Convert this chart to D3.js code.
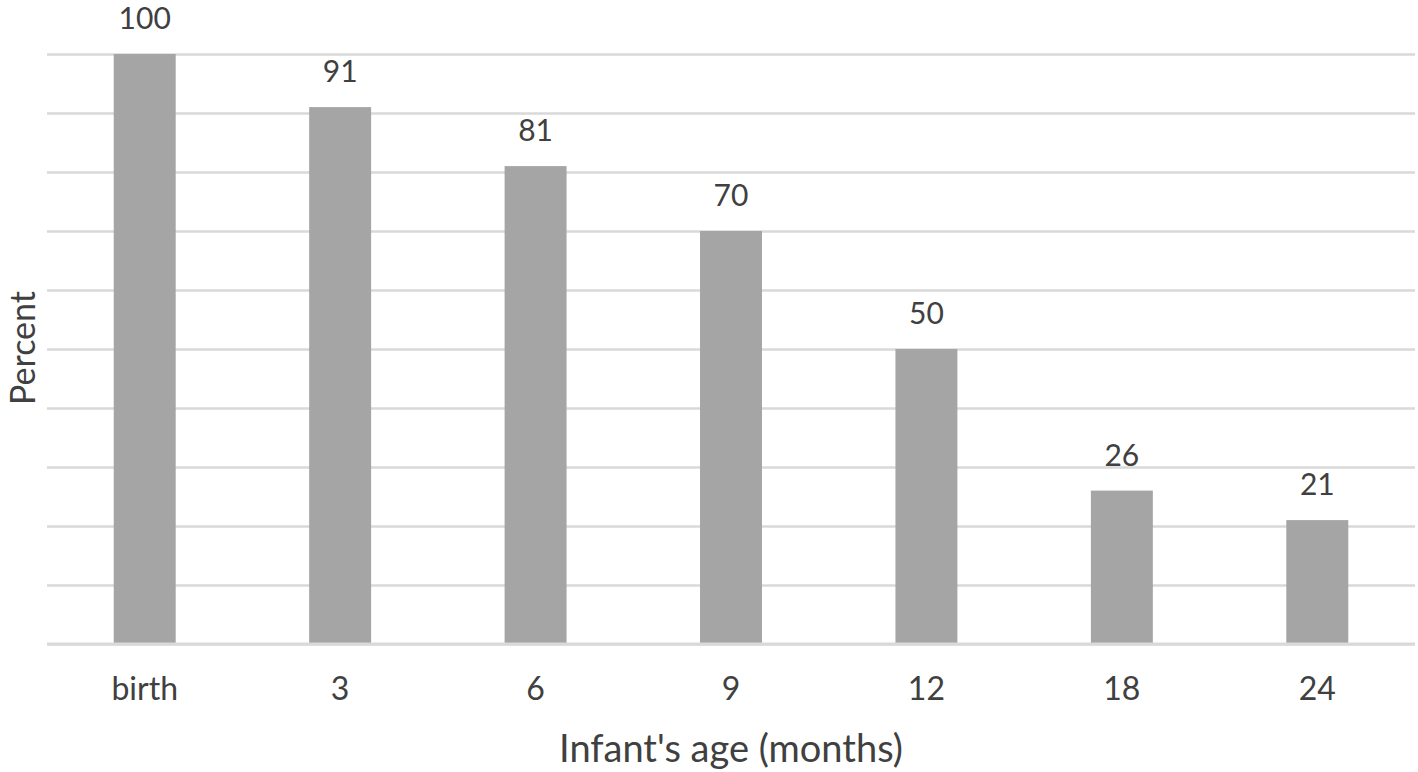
<!DOCTYPE html>
<html>
<head>
<meta charset="utf-8">
<script src="https://cdn.jsdelivr.net/npm/d3@7"></script>
<style>
  body { margin: 0; background: #fff; }
  text { font-family: Lato, "Open Sans", sans-serif; fill: #404040; }
</style>
</head>
<body>
<svg></svg>
<script>
// infant's age categories and percent still breastfed
let ages     = ['birth', '3', '6', '9', '12', '18', '24'];
let percents = [100, 91, 81, 70, 50, 26, 21];
let gridTicks = [0, 10, 20, 30, 40, 50, 60, 70, 80, 90, 100];

let width  = 1418,
    height = 772;
let plotLeft = 47, plotRight = 1415, plotTop = 54, plotBottom = 644;

let data = ages.map((a, i) => ({ age: a, value: percents[i] }));

let xScale = d3.scaleBand()
                .domain(ages)
                .range([plotLeft, plotRight])
                .padding(0),
    yScale = d3.scaleLinear()
                .domain([0, 100])
                .range([plotBottom, plotTop]);

let barW = xScale.bandwidth() * 0.317;

let svg = d3.select('svg')
    .attr('width', width)
    .attr('height', height);

// gridlines
let yAxis = d3.axisLeft(yScale)
                .tickValues(gridTicks)
                .tickSize(plotLeft - plotRight)
                .tickFormat('');
svg.append('g')
    .attr('transform', `translate(${plotLeft}, 0)`)
    .call(yAxis)
    .call(g => g.select('.domain').remove())
    .call(g => g.selectAll('line')
        .attr('stroke', '#d9d9d9')
        .attr('stroke-width', 2.5));

// bars
svg.selectAll('rect.bar')
  .data(data)
  .enter()
  .append('rect')
    .attr('class', 'bar')
    .attr('x', d => xScale(d.age) + xScale.bandwidth() / 2 - barW / 2)
    .attr('y', d => yScale(d.value))
    .attr('width', barW)
    .attr('height', d => yScale(0) - yScale(d.value))
    .attr('fill', '#a5a5a5');

// baseline over bars
svg.append('line')
    .attr('x1', plotLeft).attr('x2', plotRight)
    .attr('y1', yScale(0)).attr('y2', yScale(0))
    .attr('stroke', '#d9d9d9')
    .attr('stroke-width', 3);

// value labels
svg.selectAll('text.val')
  .data(data)
  .enter()
  .append('text')
    .attr('class', 'val')
    .attr('x', d => xScale(d.age) + xScale.bandwidth() / 2)
    .attr('y', d => yScale(d.value) - 25)
    .attr('font-size', 30)
    .style('text-anchor', 'middle')
    .text(d => d.value);

// x axis labels
let xAxis = d3.axisBottom(xScale).tickSize(0).tickPadding(0);
svg.append('g')
    .attr('transform', `translate(0, 700)`)
    .call(xAxis)
    .call(g => g.select('.domain').remove())
    .call(g => g.selectAll('text')
        .attr('dy', 0)
        .attr('y', 0)
        .attr('font-size', 32)
        .style('font-family', 'Lato, "Open Sans", sans-serif')
        .attr('fill', '#404040'));

// axis titles
svg.append('text')
    .attr('x', (plotLeft + plotRight) / 2)
    .attr('y', 762)
    .attr('font-size', 38)
    .style('text-anchor', 'middle')
    .text("Infant's age (months)");

svg.append('text')
    .attr('transform', 'rotate(-90)')
    .attr('x', -348)
    .attr('y', 35)
    .attr('font-size', 34)
    .style('text-anchor', 'middle')
    .text('Percent');
</script>
</body>
</html>
